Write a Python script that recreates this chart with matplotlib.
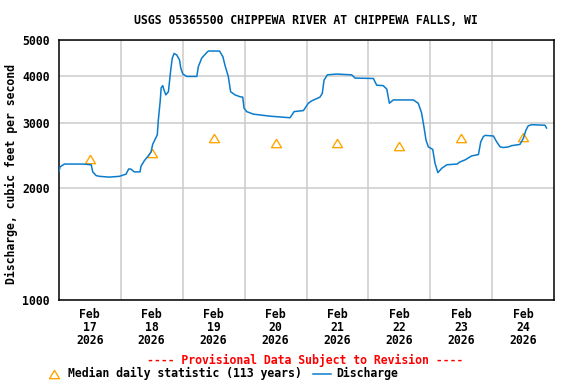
import matplotlib
matplotlib.use('Agg')
import matplotlib.pyplot as plt
import matplotlib.dates as mdates
from matplotlib.lines import Line2D
from matplotlib.ticker import FixedLocator, NullLocator
import pandas as pd

matplotlib.rcParams['font.family'] = 'DejaVu Sans Mono'
matplotlib.rcParams['font.weight'] = 'bold'

TITLE = 'USGS 05365500 CHIPPEWA RIVER AT CHIPPEWA FALLS, WI'
START = '2026-02-17'

# discharge, hours since Feb 17 00:00 and cfs
HOURS = [0.0, 0.55, 2.2, 9.3, 12.6, 13.2, 14.5, 15.8, 19.6, 23.5,
         26.1, 27.1, 27.9, 29.3, 31.5, 31.9, 33.2, 34.5, 35.8, 36.4,
         37.3, 38.2, 38.6, 39.3, 39.7, 40.3, 40.8, 41.5, 42.5, 43.4,
         44.0, 44.7, 45.7, 46.8, 47.3, 48.1, 49.6, 53.5, 54.1, 55.4,
         57.4, 58.0, 62.3, 63.6, 64.4, 65.7, 66.6, 68.3, 70.2, 71.3,
         71.8, 72.8, 75.4, 81.9, 89.6, 90.3, 91.2, 94.8, 96.7, 98.0,
         101.2, 102.1, 102.8, 104.1, 107.7, 113.5, 114.8, 121.9, 123.2, 125.7,
         127.1, 128.1, 129.6, 137.4, 139.3, 140.6, 141.5, 142.3, 143.2, 144.9,
         145.8, 146.9, 148.4, 150.4, 154.4, 155.4, 157.4, 158.7, 160.0, 162.6,
         163.5, 164.5, 165.2, 168.4, 169.7, 171.0, 172.3, 174.2, 175.5, 178.7,
         180.0, 181.0, 181.9, 183.3, 188.4, 189.0]
CFS = [2200, 2280, 2320, 2320, 2310, 2210, 2160, 2150, 2140, 2150,
       2180, 2250, 2250, 2210, 2210, 2290, 2370, 2430, 2500, 2620,
       2700, 2780, 3050, 3410, 3720, 3770, 3670, 3560, 3630, 4150,
       4470, 4600, 4560, 4420, 4200, 4050, 3990, 3990, 4240, 4470,
       4630, 4670, 4670, 4510, 4280, 3990, 3630, 3560, 3520, 3510,
       3280, 3210, 3160, 3120, 3090, 3140, 3210, 3230, 3380, 3430,
       3510, 3590, 3900, 4030, 4050, 4030, 3950, 3940, 3780, 3770,
       3690, 3380, 3450, 3450, 3380, 3180, 2920, 2690, 2580, 2540,
       2330, 2200, 2260, 2310, 2320, 2350, 2380, 2410, 2440, 2460,
       2660, 2750, 2770, 2760, 2660, 2580, 2570, 2580, 2600, 2620,
       2720, 2860, 2940, 2960, 2950, 2900]

# median daily statistic, one per day at noon
MEDIAN_DAYS = ['2026-02-17', '2026-02-18', '2026-02-19', '2026-02-20',
               '2026-02-21', '2026-02-22', '2026-02-23', '2026-02-24']
MEDIAN_CFS = [2390, 2480, 2720, 2650, 2650, 2600, 2720, 2750]

Y_TICKS = [1000, 2000, 3000, 4000, 5000]

BLUE = '#0a7ccc'
ORANGE = '#ffa500'
GRID = '#cccccc'
FS = 8.3

t = pd.Timestamp(START) + pd.to_timedelta(HOURS, unit='h')
tm = pd.to_datetime(MEDIAN_DAYS) + pd.Timedelta(hours=12)

W, H = 576, 384
fig = plt.figure(figsize=(W / 100, H / 100), dpi=100)
ax = fig.add_axes([58.7 / W, 1 - 300 / H, (554.3 - 58.7) / W, 260 / H])

tri = [(0, 1), (-1.2, -1), (1.2, -1), (0, 1)]
ax.plot(tm, MEDIAN_CFS, linestyle='none', marker=tri, markersize=7.2,
        markerfacecolor='none', markeredgecolor=ORANGE, markeredgewidth=1.0, zorder=3)
ax.plot(t, CFS, color=BLUE, linewidth=1.1, zorder=4)

ax.set_yscale('log')
ax.set_ylim(1000, 5000)
ax.yaxis.set_major_locator(FixedLocator(Y_TICKS))
ax.yaxis.set_minor_locator(NullLocator())
ax.set_yticklabels([str(v) for v in Y_TICKS])

x0 = pd.Timestamp(START)
ax.set_xlim(x0, x0 + pd.Timedelta(days=8))
noons = [x0 + pd.Timedelta(days=i, hours=12) for i in range(8)]
mids = [x0 + pd.Timedelta(days=i) for i in range(1, 8)]
ax.set_xticks(noons)
ax.set_xticklabels([f'{d:%b}\n{d.day}\n{d.year}' for d in noons], linespacing=1.02)
ax.set_xticks(mids, minor=True)

ax.grid(False)
ax.grid(True, which='minor', axis='x', color=GRID, linewidth=1.1)
ax.grid(True, which='major', axis='y', color=GRID, linewidth=1.1)
ax.set_axisbelow(True)
ax.tick_params(which='both', length=0, labelsize=FS)
ax.tick_params(axis='y', pad=6.3)
ax.tick_params(axis='x', pad=5.8)
for s in ax.spines.values():
    s.set_color('black')
    s.set_linewidth(1.1)

fig.text(306 / W, 1 - 20 / H, TITLE, ha='center', va='center', fontsize=FS)
fig.text(11.5 / W, 1 - 174 / H, 'Discharge, cubic feet per second', rotation=90,
         ha='center', va='center', fontsize=FS)
fig.text(305 / W, 1 - 360 / H, '---- Provisional Data Subject to Revision ----',
         ha='center', va='center', fontsize=FS, color='red')

# legend row
ly = 1 - 373.5 / H
fig.add_artist(Line2D([53.7 / W], [ly], transform=fig.transFigure, marker=tri,
                      markersize=7.2, markerfacecolor='none', markeredgecolor=ORANGE,
                      markeredgewidth=1.0, linestyle='none'))
fig.text(68 / W, ly, 'Median daily statistic (113 years)', ha='left', va='center', fontsize=FS)
fig.add_artist(Line2D([313.4 / W, 330.5 / W], [ly, ly], transform=fig.transFigure,
                      color=BLUE, linewidth=1.1))
fig.text(336.6 / W, ly, 'Discharge', ha='left', va='center', fontsize=FS)

fig.savefig('out.png', dpi=100)
